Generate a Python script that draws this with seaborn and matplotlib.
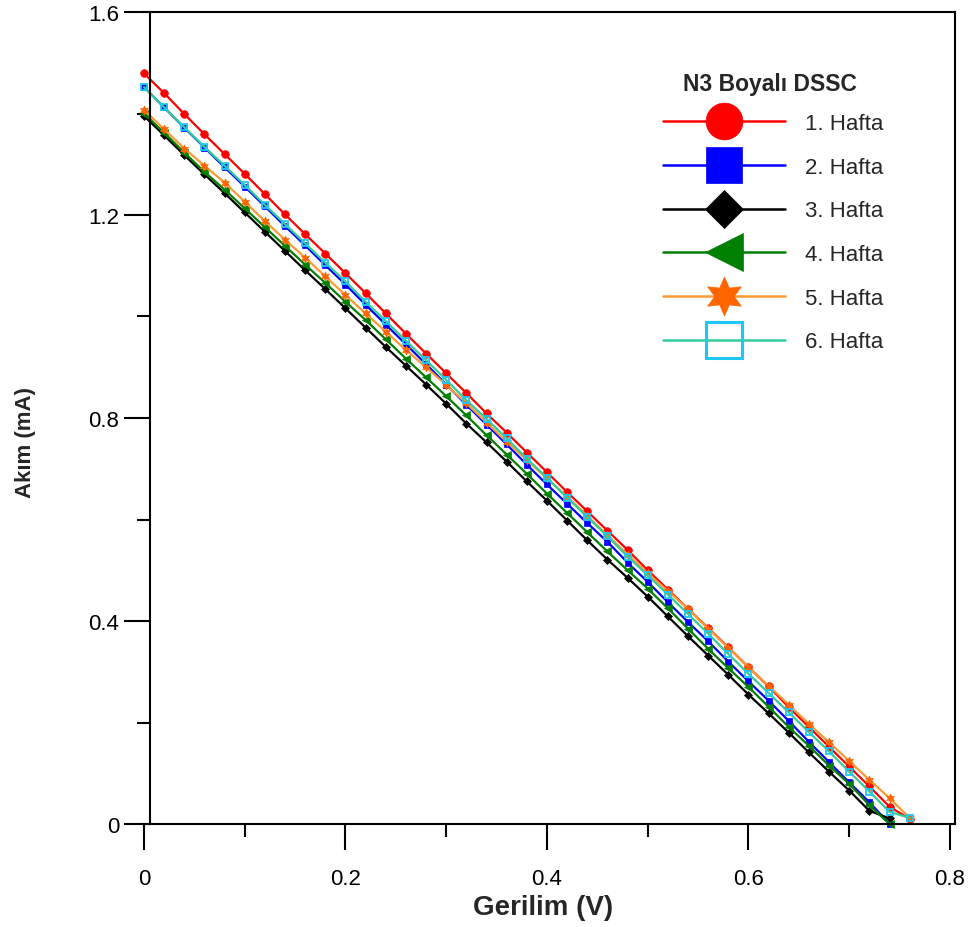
import matplotlib
matplotlib.use("Agg")
import matplotlib.pyplot as plt
from matplotlib.lines import Line2D
from matplotlib.ticker import MultipleLocator
import seaborn as sns

# ---------------- data ----------------
voltage = [0.00, 0.02, 0.04, 0.06, 0.08, 0.10, 0.12, 0.14, 0.16, 0.18,
           0.20, 0.22, 0.24, 0.26, 0.28, 0.30, 0.32, 0.34, 0.36, 0.38,
           0.40, 0.42, 0.44, 0.46, 0.48, 0.50, 0.52, 0.54, 0.56, 0.58,
           0.60, 0.62, 0.64, 0.66, 0.68, 0.70, 0.72, 0.74, 0.76]

hafta1 = [1.479, 1.440, 1.399, 1.359, 1.320, 1.281, 1.241, 1.201, 1.162, 1.124,
          1.085, 1.046, 1.006, 0.966, 0.927, 0.888, 0.849, 0.809, 0.771, 0.732,
          0.693, 0.654, 0.616, 0.578, 0.540, 0.500, 0.462, 0.424, 0.386, 0.348,
          0.309, 0.271, 0.230, 0.191, 0.152, 0.113, 0.074, 0.034, 0.010]
hafta2 = [1.452, 1.412, 1.372, 1.333, 1.294, 1.256, 1.217, 1.178, 1.140, 1.101,
          1.063, 1.023, 0.984, 0.945, 0.906, 0.866, 0.826, 0.787, 0.748, 0.708,
          0.669, 0.631, 0.593, 0.556, 0.515, 0.477, 0.437, 0.398, 0.360, 0.320,
          0.281, 0.243, 0.203, 0.162, 0.122, 0.082, 0.043, 0.000]
hafta3 = [1.395, 1.357, 1.318, 1.280, 1.243, 1.205, 1.167, 1.129, 1.091, 1.054,
          1.016, 0.978, 0.940, 0.903, 0.866, 0.828, 0.789, 0.752, 0.714, 0.675,
          0.637, 0.598, 0.559, 0.521, 0.485, 0.448, 0.409, 0.370, 0.332, 0.294,
          0.255, 0.218, 0.180, 0.141, 0.103, 0.066, 0.026, 0.011]
hafta4 = [1.400, 1.362, 1.323, 1.285, 1.250, 1.213, 1.176, 1.139, 1.102, 1.066,
          1.029, 0.993, 0.955, 0.917, 0.880, 0.843, 0.805, 0.766, 0.728, 0.690,
          0.651, 0.613, 0.575, 0.537, 0.500, 0.464, 0.425, 0.385, 0.345, 0.307,
          0.270, 0.231, 0.191, 0.154, 0.115, 0.079, 0.037, 0.000]
hafta5 = [1.407, 1.369, 1.331, 1.297, 1.264, 1.226, 1.188, 1.151, 1.116, 1.079,
          1.042, 1.006, 0.970, 0.934, 0.900, 0.865, 0.829, 0.791, 0.753, 0.717,
          0.681, 0.645, 0.607, 0.569, 0.531, 0.494, 0.459, 0.424, 0.385, 0.347,
          0.309, 0.272, 0.235, 0.197, 0.161, 0.124, 0.087, 0.051, 0.012]
hafta6 = [1.452, 1.412, 1.373, 1.334, 1.297, 1.259, 1.220, 1.182, 1.144, 1.106,
          1.069, 1.029, 0.991, 0.952, 0.914, 0.875, 0.835, 0.798, 0.760, 0.720,
          0.682, 0.643, 0.605, 0.567, 0.527, 0.490, 0.452, 0.414, 0.375, 0.335,
          0.296, 0.258, 0.220, 0.181, 0.143, 0.103, 0.064, 0.024, 0.012]

labels = ["1. Hafta", "2. Hafta", "3. Hafta", "4. Hafta", "5. Hafta", "6. Hafta"]
legend_title = "N3 Boyalı DSSC"
x_ticks = [0, 0.2, 0.4, 0.6, 0.8]
x_tick_labels = ["0", "0.2", "0.4", "0.6", "0.8"]
y_ticks = [0, 0.4, 0.8, 1.2, 1.6]
y_tick_labels = ["0", "0.4", "0.8", "1.2", "1.6"]

# ---------------- style ----------------
sns.set_style("ticks")
plt.rcParams['font.family'] = ['Liberation Sans', 'DejaVu Sans']

series = [hafta1, hafta2, hafta3, hafta4, hafta5, hafta6]
styles = [
    dict(color="#FF0000", marker="o", mfc="#FF0000", mec="#FF0000", ms=5.5, mew=0.5, lms=26.5, lmew=0.5),
    dict(color="#0000FF", marker="s", mfc="#0000FF", mec="#0000FF", ms=4.5, mew=0.5, lms=26.5, lmew=0.5),
    dict(color="#000000", marker="D", mfc="#000000", mec="#000000", ms=3.8, mew=0.5, lms=19, lmew=0.5),
    dict(color="#008000", marker="<", mfc="#008000", mec="#008000", ms=5.5, mew=0.5, lms=27, lmew=0.5),
    dict(color="#FF9933", marker=(6, 1, 0), mfc="#FF6600", mec="#FF6600", ms=6.5, mew=0.5, lms=28, lmew=0.5),
    dict(color="#33CC99", marker="s", mfc="none", mec="#1EC8F5", ms=5.0, mew=1.3, lms=26, lmew=2.2),
]

fig = plt.figure(figsize=(9.68, 9.28), dpi=100)
ax = fig.add_axes([144/968, (928-825)/928, (955-144)/968, (825-13)/928])

handles = []
for ys, st, lab in zip(series, styles, labels):
    xs = voltage[:len(ys)]
    sns.lineplot(x=xs, y=ys, ax=ax, color=st["color"], linewidth=1.6,
                 marker=st["marker"], markersize=st["ms"],
                 markerfacecolor=st["mfc"], markeredgecolor=st["mec"],
                 markeredgewidth=st["mew"], legend=False, clip_on=False,
                 sort=False, estimator=None)
    handles.append(Line2D([], [], color=st["color"], linewidth=1.8,
                          marker=st["marker"], markersize=st["lms"],
                          markerfacecolor=st["mfc"], markeredgecolor=st["mec"],
                          markeredgewidth=st["lmew"], label=lab))

ax.set_xlim(0, 0.805)
ax.set_ylim(0, 1.6)
ax.set_xticks(x_ticks)
ax.set_xticklabels(x_tick_labels)
ax.set_yticks(y_ticks)
ax.set_yticklabels(y_tick_labels)
ax.xaxis.set_minor_locator(MultipleLocator(0.1))
ax.yaxis.set_minor_locator(MultipleLocator(0.2))

for s in ax.spines.values():
    s.set_visible(True)
    s.set_linewidth(1.5)
    s.set_color("black")
ax.spines['left'].set_position(('outward', -4.3))

ax.tick_params(axis='both', which='major', direction='out', length=19, width=1.5,
               labelsize=16, color='black', labelcolor='black')
ax.tick_params(axis='both', which='minor', direction='out', length=9.5, width=1.5,
               color='black')
ax.tick_params(axis='x', which='major', pad=13)
ax.tick_params(axis='y', which='major', pad=3)
ax.grid(False)

ax.set_xlabel("Gerilim (V)", fontsize=20, fontweight='bold', va='center')
ax.set_ylabel("Akım (mA)", fontsize=16, fontweight='bold', va='center')
ax.xaxis.set_label_coords((543-144)/811, (825-908)/812)
ax.yaxis.set_label_coords((25-144)/811, (825-443)/812)

leg = ax.legend(handles=handles, loc='upper left',
                bbox_to_anchor=((663-144)/811, (825-114)/812), frameon=False,
                borderpad=0, borderaxespad=0, handlelength=5.5, handletextpad=0.9,
                labelspacing=1.02, fontsize=16)
ax.text((770-144)/811, (825-85)/812, legend_title, transform=ax.transAxes,
        ha='center', va='center', fontsize=16.5, fontweight='bold')

fig.savefig("out.png", dpi=100)
